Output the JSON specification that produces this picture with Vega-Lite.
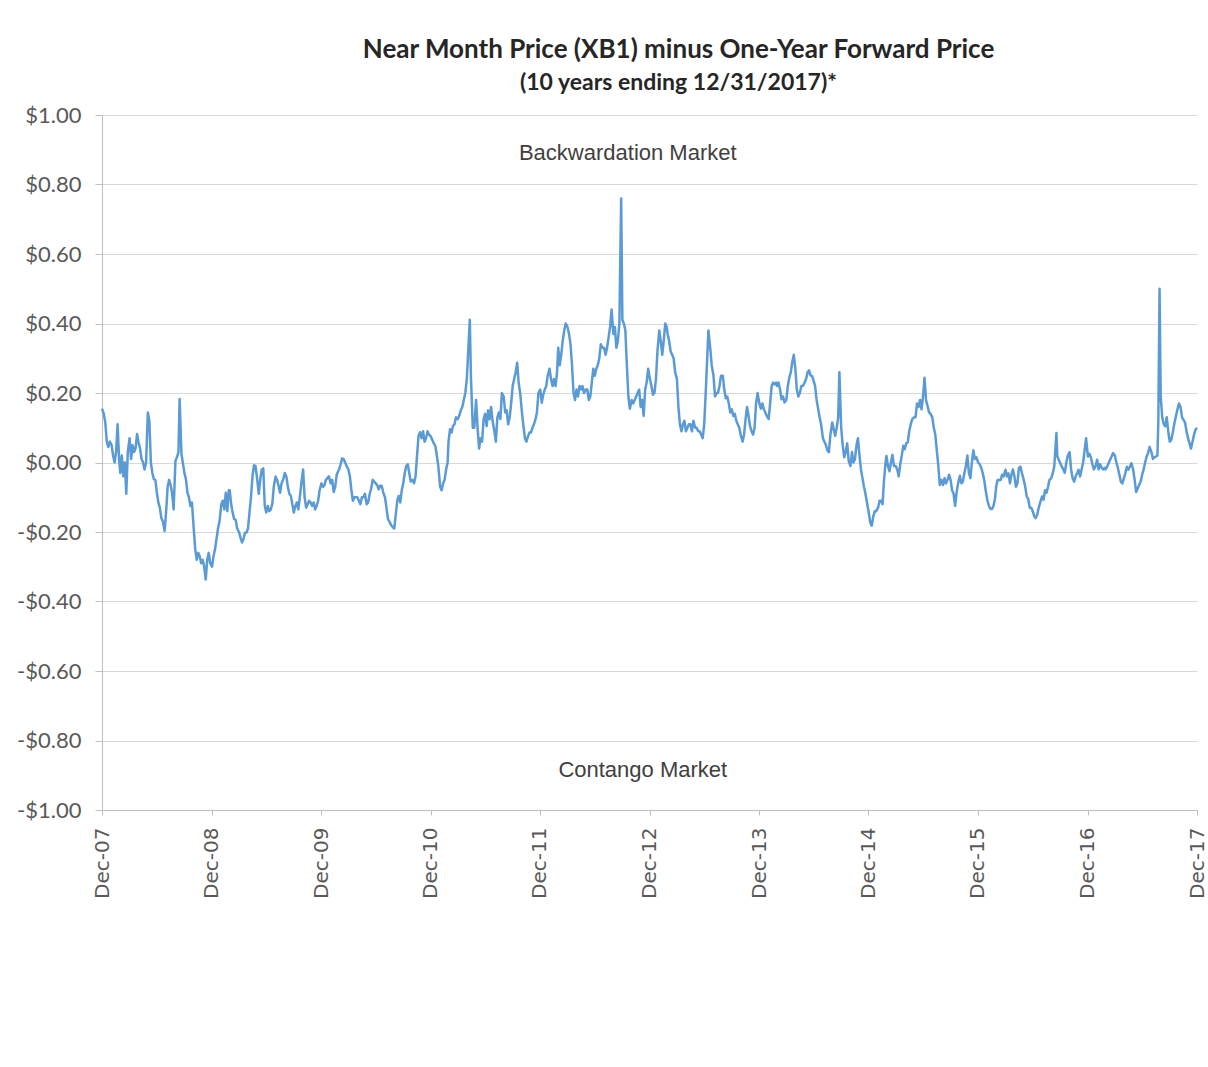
{
  "$schema": "https://vega.github.io/schema/vega-lite/v6.json",
  "width": 1095,
  "height": 695,
  "autosize": {"type": "none"},
  "padding": {"left": 102, "top": 115, "right": 11, "bottom": 257},
  "background": "white",
  "config": {"view": {"stroke": null}},
  "title": {
    "text": "Near Month Price (XB1) minus One-Year Forward Price",
    "subtitle": "(10 years ending 12/31/2017)*",
    "font": "Lato", "fontSize": 26, "fontWeight": "bold", "color": "#262626",
    "subtitleFont": "Lato", "subtitleFontSize": 23, "subtitleFontWeight": "bold", "subtitleColor": "#262626",
    "anchor": "middle", "dx": 29, "offset": 9, "subtitlePadding": 9
  },
  "encoding": {
    "x": {
      "field": "d", "type": "temporal",
      "scale": {"domain": [{"year": 2007, "month": 12, "date": 31}, {"year": 2017, "month": 12, "date": 31}]},
      "axis": {
        "title": null, "grid": false, "format": "%b-%y", "labelAngle": -90,
        "values": [
          {"year": 2007, "month": 12, "date": 31}, {"year": 2008, "month": 12, "date": 31},
          {"year": 2009, "month": 12, "date": 31}, {"year": 2010, "month": 12, "date": 31},
          {"year": 2011, "month": 12, "date": 31}, {"year": 2012, "month": 12, "date": 31},
          {"year": 2013, "month": 12, "date": 31}, {"year": 2014, "month": 12, "date": 31},
          {"year": 2015, "month": 12, "date": 31}, {"year": 2016, "month": 12, "date": 31},
          {"year": 2017, "month": 12, "date": 31}
        ],
        "labelFont": "DejaVu Sans", "labelFontSize": 20, "labelColor": "#595959",
        "domainColor": "#bfbfbf", "tickColor": "#bfbfbf", "tickSize": 5, "labelPadding": 12,
        "labelOverlap": false, "labelFlush": false
      }
    },
    "y": {
      "field": "v", "type": "quantitative",
      "scale": {"domain": [-1, 1], "nice": false, "zero": false},
      "axis": {
        "title": null,
        "values": [-1, -0.8, -0.6, -0.4, -0.2, 0, 0.2, 0.4, 0.6, 0.8, 1],
        "labelExpr": "datum.value < -0.0001 ? '-$' + format(-datum.value, '.2f') : '$' + format(abs(datum.value), '.2f')",
        "labelFont": "Lato", "labelFontSize": 22, "labelColor": "#595959",
        "domainColor": "#bfbfbf", "tickColor": "#bfbfbf", "tickSize": 7, "labelPadding": 14,
        "gridColor": "#d9d9d9", "gridWidth": 1, "labelOverlap": false
      }
    }
  },
  "layer": [
    {
      "data": {"values": [
        {"d": "2007-12-31"}, {"d": "2008-12-31"}, {"d": "2009-12-31"}, {"d": "2010-12-31"},
        {"d": "2011-12-31"}, {"d": "2012-12-31"}, {"d": "2013-12-31"}, {"d": "2014-12-31"},
        {"d": "2015-12-31"}, {"d": "2016-12-31"}, {"d": "2017-12-31"}
      ]},
      "mark": {"type": "tick", "orient": "vertical", "size": 8, "thickness": 1, "color": "#bfbfbf", "yOffset": 4},
      "encoding": {"y": {"datum": 0}}
    },
    {
      "data": {"values": [
        {"d": "2007-12-31", "v": 0.155}, {"d": "2008-01-11", "v": 0.115}, {"d": "2008-01-21", "v": 0.045},
        {"d": "2008-02-01", "v": 0.05}, {"d": "2008-02-11", "v": 0.0}, {"d": "2008-02-21", "v": 0.11},
        {"d": "2008-03-01", "v": -0.03}, {"d": "2008-03-11", "v": -0.04}, {"d": "2008-03-21", "v": -0.09},
        {"d": "2008-04-01", "v": 0.07}, {"d": "2008-04-11", "v": 0.05}, {"d": "2008-04-21", "v": 0.04},
        {"d": "2008-05-01", "v": 0.058}, {"d": "2008-05-11", "v": 0.01}, {"d": "2008-05-21", "v": -0.02},
        {"d": "2008-06-01", "v": 0.144}, {"d": "2008-06-11", "v": 0.0}, {"d": "2008-06-21", "v": -0.048},
        {"d": "2008-07-01", "v": -0.087}, {"d": "2008-07-11", "v": -0.13}, {"d": "2008-07-21", "v": -0.17},
        {"d": "2008-07-27", "v": -0.197}, {"d": "2008-08-01", "v": -0.14}, {"d": "2008-08-11", "v": -0.05},
        {"d": "2008-08-21", "v": -0.09}, {"d": "2008-09-01", "v": 0.005}, {"d": "2008-09-11", "v": 0.03},
        {"d": "2008-09-15", "v": 0.183}, {"d": "2008-09-21", "v": 0.025}, {"d": "2008-10-01", "v": -0.03},
        {"d": "2008-10-11", "v": -0.087}, {"d": "2008-10-21", "v": -0.125}, {"d": "2008-11-01", "v": -0.19},
        {"d": "2008-11-11", "v": -0.28}, {"d": "2008-11-21", "v": -0.27}, {"d": "2008-12-01", "v": -0.28},
        {"d": "2008-12-11", "v": -0.337}, {"d": "2008-12-21", "v": -0.26},
        {"d": "2009-01-01", "v": -0.30}, {"d": "2009-01-11", "v": -0.25}, {"d": "2009-01-21", "v": -0.19},
        {"d": "2009-02-01", "v": -0.12}, {"d": "2009-02-11", "v": -0.135}, {"d": "2009-02-21", "v": -0.14},
        {"d": "2009-03-01", "v": -0.08}, {"d": "2009-03-11", "v": -0.145}, {"d": "2009-03-21", "v": -0.165},
        {"d": "2009-04-01", "v": -0.20}, {"d": "2009-04-11", "v": -0.23}, {"d": "2009-04-21", "v": -0.202},
        {"d": "2009-05-01", "v": -0.19}, {"d": "2009-05-11", "v": -0.10}, {"d": "2009-05-21", "v": -0.008},
        {"d": "2009-06-01", "v": -0.05}, {"d": "2009-06-11", "v": -0.048}, {"d": "2009-06-21", "v": -0.017},
        {"d": "2009-07-01", "v": -0.144}, {"d": "2009-07-11", "v": -0.14}, {"d": "2009-07-21", "v": -0.12},
        {"d": "2009-08-01", "v": -0.04}, {"d": "2009-08-11", "v": -0.067}, {"d": "2009-08-21", "v": -0.06},
        {"d": "2009-09-01", "v": -0.03}, {"d": "2009-09-11", "v": -0.07}, {"d": "2009-09-21", "v": -0.096},
        {"d": "2009-10-01", "v": -0.144}, {"d": "2009-10-11", "v": -0.115}, {"d": "2009-10-21", "v": -0.10},
        {"d": "2009-11-01", "v": -0.02}, {"d": "2009-11-11", "v": -0.13}, {"d": "2009-11-21", "v": -0.11},
        {"d": "2009-12-01", "v": -0.125}, {"d": "2009-12-11", "v": -0.135}, {"d": "2009-12-21", "v": -0.11},
        {"d": "2010-01-01", "v": -0.06}, {"d": "2010-01-11", "v": -0.065}, {"d": "2010-01-21", "v": -0.045},
        {"d": "2010-02-01", "v": -0.06}, {"d": "2010-02-11", "v": -0.085}, {"d": "2010-02-21", "v": -0.035},
        {"d": "2010-03-01", "v": -0.02}, {"d": "2010-03-11", "v": 0.012}, {"d": "2010-03-21", "v": 0.0},
        {"d": "2010-04-01", "v": -0.02}, {"d": "2010-04-11", "v": -0.08}, {"d": "2010-04-21", "v": -0.10},
        {"d": "2010-05-01", "v": -0.10}, {"d": "2010-05-11", "v": -0.12}, {"d": "2010-05-21", "v": -0.10},
        {"d": "2010-06-01", "v": -0.12}, {"d": "2010-06-11", "v": -0.09}, {"d": "2010-06-21", "v": -0.05},
        {"d": "2010-07-01", "v": -0.06}, {"d": "2010-07-11", "v": -0.077}, {"d": "2010-07-21", "v": -0.067},
        {"d": "2010-08-01", "v": -0.10}, {"d": "2010-08-11", "v": -0.163}, {"d": "2010-08-21", "v": -0.18},
        {"d": "2010-09-01", "v": -0.19}, {"d": "2010-09-11", "v": -0.11}, {"d": "2010-09-21", "v": -0.115},
        {"d": "2010-10-01", "v": -0.06}, {"d": "2010-10-11", "v": -0.01}, {"d": "2010-10-21", "v": -0.03},
        {"d": "2010-11-01", "v": -0.05}, {"d": "2010-11-11", "v": -0.04}, {"d": "2010-11-21", "v": 0.077},
        {"d": "2010-12-01", "v": 0.07}, {"d": "2010-12-11", "v": 0.06}, {"d": "2010-12-21", "v": 0.09},
        {"d": "2011-01-01", "v": 0.075}, {"d": "2011-01-11", "v": 0.055}, {"d": "2011-01-21", "v": 0.02},
        {"d": "2011-02-01", "v": -0.07}, {"d": "2011-02-11", "v": -0.06}, {"d": "2011-02-21", "v": -0.02},
        {"d": "2011-03-01", "v": 0.06}, {"d": "2011-03-11", "v": 0.086}, {"d": "2011-03-21", "v": 0.11},
        {"d": "2011-04-01", "v": 0.125}, {"d": "2011-04-11", "v": 0.15}, {"d": "2011-04-21", "v": 0.18},
        {"d": "2011-05-01", "v": 0.24}, {"d": "2011-05-04", "v": 0.29}, {"d": "2011-05-11", "v": 0.411},
        {"d": "2011-05-15", "v": 0.24}, {"d": "2011-05-21", "v": 0.10}, {"d": "2011-06-01", "v": 0.18},
        {"d": "2011-06-11", "v": 0.04}, {"d": "2011-06-21", "v": 0.06}, {"d": "2011-07-01", "v": 0.14},
        {"d": "2011-07-11", "v": 0.15}, {"d": "2011-07-21", "v": 0.16}, {"d": "2011-08-01", "v": 0.09},
        {"d": "2011-08-11", "v": 0.13}, {"d": "2011-08-21", "v": 0.125}, {"d": "2011-09-01", "v": 0.19},
        {"d": "2011-09-11", "v": 0.15}, {"d": "2011-09-21", "v": 0.13}, {"d": "2011-10-01", "v": 0.22},
        {"d": "2011-10-11", "v": 0.26}, {"d": "2011-10-21", "v": 0.23}, {"d": "2011-11-01", "v": 0.144},
        {"d": "2011-11-11", "v": 0.07}, {"d": "2011-11-21", "v": 0.075}, {"d": "2011-12-01", "v": 0.086},
        {"d": "2011-12-11", "v": 0.11}, {"d": "2011-12-21", "v": 0.144},
        {"d": "2012-01-01", "v": 0.21}, {"d": "2012-01-11", "v": 0.195}, {"d": "2012-01-21", "v": 0.22},
        {"d": "2012-02-01", "v": 0.27}, {"d": "2012-02-11", "v": 0.22}, {"d": "2012-02-21", "v": 0.22},
        {"d": "2012-03-01", "v": 0.33}, {"d": "2012-03-11", "v": 0.31}, {"d": "2012-03-21", "v": 0.38},
        {"d": "2012-04-01", "v": 0.39}, {"d": "2012-04-11", "v": 0.34}, {"d": "2012-04-21", "v": 0.2},
        {"d": "2012-05-01", "v": 0.21}, {"d": "2012-05-11", "v": 0.22}, {"d": "2012-05-21", "v": 0.22},
        {"d": "2012-06-01", "v": 0.21}, {"d": "2012-06-11", "v": 0.18}, {"d": "2012-06-21", "v": 0.23},
        {"d": "2012-07-01", "v": 0.25}, {"d": "2012-07-11", "v": 0.28}, {"d": "2012-07-21", "v": 0.34},
        {"d": "2012-08-01", "v": 0.33}, {"d": "2012-08-11", "v": 0.33}, {"d": "2012-08-21", "v": 0.39},
        {"d": "2012-09-01", "v": 0.37}, {"d": "2012-09-11", "v": 0.33}, {"d": "2012-09-21", "v": 0.40},
        {"d": "2012-09-27", "v": 0.76}, {"d": "2012-10-01", "v": 0.41}, {"d": "2012-10-11", "v": 0.38},
        {"d": "2012-10-21", "v": 0.19}, {"d": "2012-11-01", "v": 0.18}, {"d": "2012-11-11", "v": 0.18},
        {"d": "2012-11-21", "v": 0.2}, {"d": "2012-12-01", "v": 0.16}, {"d": "2012-12-11", "v": 0.134},
        {"d": "2012-12-21", "v": 0.23},
        {"d": "2013-01-01", "v": 0.24}, {"d": "2013-01-11", "v": 0.195}, {"d": "2013-01-21", "v": 0.24},
        {"d": "2013-02-01", "v": 0.38}, {"d": "2013-02-11", "v": 0.31}, {"d": "2013-02-21", "v": 0.40},
        {"d": "2013-03-01", "v": 0.37}, {"d": "2013-03-11", "v": 0.32}, {"d": "2013-03-21", "v": 0.30},
        {"d": "2013-04-01", "v": 0.24}, {"d": "2013-04-11", "v": 0.11}, {"d": "2013-04-21", "v": 0.11},
        {"d": "2013-05-01", "v": 0.09}, {"d": "2013-05-11", "v": 0.11}, {"d": "2013-05-21", "v": 0.09},
        {"d": "2013-06-01", "v": 0.10}, {"d": "2013-06-11", "v": 0.09}, {"d": "2013-06-21", "v": 0.08},
        {"d": "2013-07-01", "v": 0.11}, {"d": "2013-07-11", "v": 0.30}, {"d": "2013-07-15", "v": 0.38},
        {"d": "2013-07-21", "v": 0.33}, {"d": "2013-08-01", "v": 0.25}, {"d": "2013-08-11", "v": 0.20},
        {"d": "2013-08-21", "v": 0.22}, {"d": "2013-09-01", "v": 0.25}, {"d": "2013-09-11", "v": 0.185},
        {"d": "2013-09-21", "v": 0.17}, {"d": "2013-10-01", "v": 0.153}, {"d": "2013-10-11", "v": 0.14},
        {"d": "2013-10-21", "v": 0.11}, {"d": "2013-11-01", "v": 0.075}, {"d": "2013-11-11", "v": 0.08},
        {"d": "2013-11-21", "v": 0.16}, {"d": "2013-12-01", "v": 0.105}, {"d": "2013-12-11", "v": 0.08},
        {"d": "2013-12-21", "v": 0.17},
        {"d": "2014-01-01", "v": 0.17}, {"d": "2014-01-11", "v": 0.17}, {"d": "2014-01-21", "v": 0.144},
        {"d": "2014-02-01", "v": 0.125}, {"d": "2014-02-11", "v": 0.22}, {"d": "2014-02-21", "v": 0.225},
        {"d": "2014-03-01", "v": 0.22}, {"d": "2014-03-11", "v": 0.21}, {"d": "2014-03-21", "v": 0.19},
        {"d": "2014-04-01", "v": 0.18}, {"d": "2014-04-11", "v": 0.245}, {"d": "2014-04-21", "v": 0.29},
        {"d": "2014-05-01", "v": 0.27}, {"d": "2014-05-11", "v": 0.19}, {"d": "2014-05-21", "v": 0.22},
        {"d": "2014-06-01", "v": 0.23}, {"d": "2014-06-11", "v": 0.26}, {"d": "2014-06-21", "v": 0.25},
        {"d": "2014-07-01", "v": 0.235}, {"d": "2014-07-11", "v": 0.18}, {"d": "2014-07-21", "v": 0.13},
        {"d": "2014-08-01", "v": 0.07}, {"d": "2014-08-11", "v": 0.05}, {"d": "2014-08-21", "v": 0.03},
        {"d": "2014-09-01", "v": 0.115}, {"d": "2014-09-11", "v": 0.077}, {"d": "2014-09-21", "v": 0.13},
        {"d": "2014-09-25", "v": 0.26}, {"d": "2014-10-01", "v": 0.10}, {"d": "2014-10-11", "v": 0.015},
        {"d": "2014-10-21", "v": 0.055}, {"d": "2014-11-01", "v": -0.01}, {"d": "2014-11-11", "v": 0.0},
        {"d": "2014-11-21", "v": 0.05}, {"d": "2014-12-01", "v": 0.02}, {"d": "2014-12-11", "v": -0.045},
        {"d": "2014-12-21", "v": -0.09},
        {"d": "2015-01-01", "v": -0.145}, {"d": "2015-01-11", "v": -0.182}, {"d": "2015-01-21", "v": -0.14},
        {"d": "2015-02-01", "v": -0.13}, {"d": "2015-02-11", "v": -0.11}, {"d": "2015-02-21", "v": -0.05},
        {"d": "2015-03-01", "v": 0.019}, {"d": "2015-03-11", "v": -0.025}, {"d": "2015-03-21", "v": 0.022},
        {"d": "2015-04-01", "v": -0.01}, {"d": "2015-04-11", "v": -0.04}, {"d": "2015-04-21", "v": 0.019},
        {"d": "2015-05-01", "v": 0.038}, {"d": "2015-05-11", "v": 0.058}, {"d": "2015-05-21", "v": 0.11},
        {"d": "2015-06-01", "v": 0.13}, {"d": "2015-06-11", "v": 0.17}, {"d": "2015-06-21", "v": 0.18},
        {"d": "2015-07-01", "v": 0.19}, {"d": "2015-07-06", "v": 0.244}, {"d": "2015-07-11", "v": 0.18},
        {"d": "2015-07-21", "v": 0.145}, {"d": "2015-08-01", "v": 0.13}, {"d": "2015-08-11", "v": 0.08},
        {"d": "2015-08-21", "v": -0.01}, {"d": "2015-09-01", "v": -0.05}, {"d": "2015-09-11", "v": -0.045},
        {"d": "2015-09-21", "v": -0.05}, {"d": "2015-10-01", "v": -0.05}, {"d": "2015-10-11", "v": -0.09},
        {"d": "2015-10-21", "v": -0.086}, {"d": "2015-11-01", "v": -0.038}, {"d": "2015-11-11", "v": -0.055},
        {"d": "2015-11-21", "v": -0.01}, {"d": "2015-12-01", "v": -0.03}, {"d": "2015-12-11", "v": 0.0},
        {"d": "2015-12-21", "v": 0.01},
        {"d": "2016-01-01", "v": 0.0}, {"d": "2016-01-11", "v": -0.015}, {"d": "2016-01-21", "v": -0.05},
        {"d": "2016-02-01", "v": -0.11}, {"d": "2016-02-11", "v": -0.134}, {"d": "2016-02-21", "v": -0.125},
        {"d": "2016-03-01", "v": -0.07}, {"d": "2016-03-11", "v": -0.05}, {"d": "2016-03-21", "v": -0.035},
        {"d": "2016-04-01", "v": -0.021}, {"d": "2016-04-11", "v": -0.031}, {"d": "2016-04-21", "v": -0.035},
        {"d": "2016-05-01", "v": -0.04}, {"d": "2016-05-11", "v": -0.06}, {"d": "2016-05-21", "v": -0.012},
        {"d": "2016-06-01", "v": -0.05}, {"d": "2016-06-11", "v": -0.098}, {"d": "2016-06-21", "v": -0.13},
        {"d": "2016-07-01", "v": -0.14}, {"d": "2016-07-11", "v": -0.16}, {"d": "2016-07-21", "v": -0.13},
        {"d": "2016-08-01", "v": -0.098}, {"d": "2016-08-11", "v": -0.08}, {"d": "2016-08-21", "v": -0.07},
        {"d": "2016-09-01", "v": -0.045}, {"d": "2016-09-11", "v": -0.01}, {"d": "2016-09-18", "v": 0.085},
        {"d": "2016-09-21", "v": 0.017}, {"d": "2016-10-01", "v": -0.002}, {"d": "2016-10-11", "v": -0.02},
        {"d": "2016-10-21", "v": 0.0}, {"d": "2016-11-01", "v": 0.03}, {"d": "2016-11-11", "v": -0.045},
        {"d": "2016-11-21", "v": -0.04}, {"d": "2016-12-01", "v": -0.021}, {"d": "2016-12-11", "v": -0.02},
        {"d": "2016-12-21", "v": 0.035}, {"d": "2016-12-26", "v": 0.07},
        {"d": "2017-01-01", "v": 0.017}, {"d": "2017-01-11", "v": 0.015}, {"d": "2017-01-21", "v": -0.02},
        {"d": "2017-02-01", "v": 0.008}, {"d": "2017-02-11", "v": -0.005}, {"d": "2017-02-21", "v": -0.02},
        {"d": "2017-03-01", "v": -0.02}, {"d": "2017-03-11", "v": -0.002}, {"d": "2017-03-21", "v": 0.017},
        {"d": "2017-04-01", "v": 0.02}, {"d": "2017-04-11", "v": -0.015}, {"d": "2017-04-21", "v": -0.055},
        {"d": "2017-05-01", "v": -0.045}, {"d": "2017-05-11", "v": -0.012}, {"d": "2017-05-21", "v": -0.012},
        {"d": "2017-06-01", "v": -0.02}, {"d": "2017-06-11", "v": -0.085}, {"d": "2017-06-21", "v": -0.065},
        {"d": "2017-07-01", "v": -0.035}, {"d": "2017-07-11", "v": 0.0}, {"d": "2017-07-21", "v": 0.027},
        {"d": "2017-08-01", "v": 0.03}, {"d": "2017-08-11", "v": 0.015}, {"d": "2017-08-21", "v": 0.02},
        {"d": "2017-08-24", "v": 0.12}, {"d": "2017-08-28", "v": 0.50}, {"d": "2017-09-01", "v": 0.19},
        {"d": "2017-09-06", "v": 0.13}, {"d": "2017-09-11", "v": 0.11}, {"d": "2017-09-21", "v": 0.13},
        {"d": "2017-10-01", "v": 0.06}, {"d": "2017-10-11", "v": 0.085}, {"d": "2017-10-21", "v": 0.13},
        {"d": "2017-11-01", "v": 0.17}, {"d": "2017-11-11", "v": 0.13}, {"d": "2017-11-21", "v": 0.115},
        {"d": "2017-12-01", "v": 0.07}, {"d": "2017-12-11", "v": 0.04}, {"d": "2017-12-21", "v": 0.08},
        {"d": "2017-12-31", "v": 0.10},

        {"d": "2008-01-06", "v": 0.14}, {"d": "2008-01-16", "v": 0.06}, {"d": "2008-01-26", "v": 0.06},
        {"d": "2008-02-06", "v": 0.02}, {"d": "2008-02-16", "v": 0.03}, {"d": "2008-02-26", "v": 0.01},
        {"d": "2008-03-06", "v": 0.02}, {"d": "2008-03-16", "v": 0.0}, {"d": "2008-03-26", "v": 0.03},
        {"d": "2008-04-06", "v": 0.01}, {"d": "2008-04-16", "v": 0.03}, {"d": "2008-04-26", "v": 0.082},
        {"d": "2008-05-06", "v": 0.04}, {"d": "2008-05-16", "v": 0.0}, {"d": "2008-05-26", "v": 0.0},
        {"d": "2008-06-06", "v": 0.12}, {"d": "2008-06-16", "v": -0.03}, {"d": "2008-06-26", "v": -0.05},
        {"d": "2008-07-06", "v": -0.115}, {"d": "2008-07-16", "v": -0.16},
        {"d": "2008-08-06", "v": -0.07}, {"d": "2008-08-16", "v": -0.065}, {"d": "2008-08-26", "v": -0.135},
        {"d": "2008-09-06", "v": 0.015},
        {"d": "2008-10-06", "v": -0.048}, {"d": "2008-10-16", "v": -0.1}, {"d": "2008-10-26", "v": -0.115},
        {"d": "2008-11-06", "v": -0.25}, {"d": "2008-11-16", "v": -0.26}, {"d": "2008-11-26", "v": -0.29},
        {"d": "2008-12-06", "v": -0.30}, {"d": "2008-12-16", "v": -0.28}, {"d": "2008-12-26", "v": -0.29},
        {"d": "2009-01-06", "v": -0.27}, {"d": "2009-01-16", "v": -0.22}, {"d": "2009-01-26", "v": -0.17},
        {"d": "2009-02-06", "v": -0.11}, {"d": "2009-02-16", "v": -0.087}, {"d": "2009-02-26", "v": -0.08},
        {"d": "2009-03-06", "v": -0.12}, {"d": "2009-03-16", "v": -0.163}, {"d": "2009-03-26", "v": -0.19},
        {"d": "2009-04-06", "v": -0.216}, {"d": "2009-04-16", "v": -0.22}, {"d": "2009-04-26", "v": -0.202},
        {"d": "2009-05-06", "v": -0.144}, {"d": "2009-05-16", "v": -0.04}, {"d": "2009-05-26", "v": -0.01},
        {"d": "2009-06-06", "v": -0.09}, {"d": "2009-06-16", "v": -0.02}, {"d": "2009-06-26", "v": -0.125},
        {"d": "2009-07-06", "v": -0.125}, {"d": "2009-07-16", "v": -0.135}, {"d": "2009-07-26", "v": -0.07},
        {"d": "2009-08-06", "v": -0.05}, {"d": "2009-08-16", "v": -0.087}, {"d": "2009-08-26", "v": -0.05},
        {"d": "2009-09-06", "v": -0.04}, {"d": "2009-09-16", "v": -0.09}, {"d": "2009-09-26", "v": -0.12},
        {"d": "2009-10-06", "v": -0.125}, {"d": "2009-10-16", "v": -0.135}, {"d": "2009-10-26", "v": -0.06},
        {"d": "2009-11-06", "v": -0.1}, {"d": "2009-11-16", "v": -0.12}, {"d": "2009-11-26", "v": -0.115},
        {"d": "2009-12-06", "v": -0.115}, {"d": "2009-12-16", "v": -0.125}, {"d": "2009-12-26", "v": -0.08},
        {"d": "2010-01-06", "v": -0.07}, {"d": "2010-01-16", "v": -0.05}, {"d": "2010-01-26", "v": -0.04},
        {"d": "2010-02-06", "v": -0.05}, {"d": "2010-02-16", "v": -0.07}, {"d": "2010-02-26", "v": -0.025},
        {"d": "2010-03-06", "v": -0.005}, {"d": "2010-03-16", "v": 0.01}, {"d": "2010-03-26", "v": -0.01},
        {"d": "2010-04-06", "v": -0.04}, {"d": "2010-04-16", "v": -0.11}, {"d": "2010-04-26", "v": -0.1},
        {"d": "2010-05-06", "v": -0.11}, {"d": "2010-05-16", "v": -0.1}, {"d": "2010-05-26", "v": -0.09},
        {"d": "2010-06-06", "v": -0.115}, {"d": "2010-06-16", "v": -0.075}, {"d": "2010-06-26", "v": -0.055},
        {"d": "2010-07-06", "v": -0.065}, {"d": "2010-07-16", "v": -0.067}, {"d": "2010-07-26", "v": -0.085},
        {"d": "2010-08-06", "v": -0.13}, {"d": "2010-08-16", "v": -0.17}, {"d": "2010-08-26", "v": -0.185},
        {"d": "2010-09-06", "v": -0.15}, {"d": "2010-09-16", "v": -0.096}, {"d": "2010-09-26", "v": -0.08},
        {"d": "2010-10-06", "v": -0.03}, {"d": "2010-10-16", "v": -0.005}, {"d": "2010-10-26", "v": -0.055},
        {"d": "2010-11-06", "v": -0.06}, {"d": "2010-11-16", "v": 0.02}, {"d": "2010-11-26", "v": 0.087},
        {"d": "2010-12-06", "v": 0.09}, {"d": "2010-12-16", "v": 0.07}, {"d": "2010-12-26", "v": 0.08},
        {"d": "2011-01-06", "v": 0.065}, {"d": "2011-01-16", "v": 0.048}, {"d": "2011-01-26", "v": -0.01},
        {"d": "2011-02-06", "v": -0.08}, {"d": "2011-02-16", "v": -0.05}, {"d": "2011-02-26", "v": 0.0},
        {"d": "2011-03-06", "v": 0.096}, {"d": "2011-03-16", "v": 0.105}, {"d": "2011-03-26", "v": 0.13},
        {"d": "2011-04-06", "v": 0.135}, {"d": "2011-04-16", "v": 0.16}, {"d": "2011-04-26", "v": 0.2},
        {"d": "2011-05-26", "v": 0.1},
        {"d": "2011-06-06", "v": 0.1}, {"d": "2011-06-16", "v": 0.07}, {"d": "2011-06-26", "v": 0.124},
        {"d": "2011-07-06", "v": 0.105}, {"d": "2011-07-16", "v": 0.124}, {"d": "2011-07-26", "v": 0.12},
        {"d": "2011-08-06", "v": 0.06}, {"d": "2011-08-16", "v": 0.144}, {"d": "2011-08-26", "v": 0.2},
        {"d": "2011-09-06", "v": 0.144}, {"d": "2011-09-16", "v": 0.11}, {"d": "2011-09-26", "v": 0.17},
        {"d": "2011-10-06", "v": 0.24}, {"d": "2011-10-16", "v": 0.287}, {"d": "2011-10-26", "v": 0.2},
        {"d": "2011-11-06", "v": 0.105}, {"d": "2011-11-16", "v": 0.06}, {"d": "2011-11-26", "v": 0.086},
        {"d": "2011-12-06", "v": 0.1}, {"d": "2011-12-16", "v": 0.124}, {"d": "2011-12-26", "v": 0.2},
        {"d": "2012-01-06", "v": 0.172}, {"d": "2012-01-16", "v": 0.21}, {"d": "2012-01-26", "v": 0.25},
        {"d": "2012-02-06", "v": 0.24}, {"d": "2012-02-16", "v": 0.24}, {"d": "2012-02-26", "v": 0.258},
        {"d": "2012-03-06", "v": 0.28}, {"d": "2012-03-16", "v": 0.35}, {"d": "2012-03-26", "v": 0.40},
        {"d": "2012-04-06", "v": 0.37}, {"d": "2012-04-16", "v": 0.28}, {"d": "2012-04-26", "v": 0.18},
        {"d": "2012-05-06", "v": 0.19}, {"d": "2012-05-16", "v": 0.21}, {"d": "2012-05-26", "v": 0.2},
        {"d": "2012-06-06", "v": 0.21}, {"d": "2012-06-16", "v": 0.19}, {"d": "2012-06-26", "v": 0.27},
        {"d": "2012-07-06", "v": 0.27}, {"d": "2012-07-16", "v": 0.3}, {"d": "2012-07-26", "v": 0.33},
        {"d": "2012-08-06", "v": 0.31}, {"d": "2012-08-16", "v": 0.36}, {"d": "2012-08-26", "v": 0.44},
        {"d": "2012-09-06", "v": 0.39}, {"d": "2012-09-16", "v": 0.35},
        {"d": "2012-10-06", "v": 0.40}, {"d": "2012-10-16", "v": 0.28}, {"d": "2012-10-26", "v": 0.155},
        {"d": "2012-11-06", "v": 0.17}, {"d": "2012-11-16", "v": 0.19}, {"d": "2012-11-26", "v": 0.21},
        {"d": "2012-12-06", "v": 0.18}, {"d": "2012-12-16", "v": 0.21}, {"d": "2012-12-26", "v": 0.27},
        {"d": "2013-01-06", "v": 0.22}, {"d": "2013-01-16", "v": 0.2}, {"d": "2013-01-26", "v": 0.32},
        {"d": "2013-02-06", "v": 0.35}, {"d": "2013-02-16", "v": 0.35}, {"d": "2013-02-26", "v": 0.39},
        {"d": "2013-03-06", "v": 0.35}, {"d": "2013-03-16", "v": 0.31}, {"d": "2013-03-26", "v": 0.26},
        {"d": "2013-04-06", "v": 0.16}, {"d": "2013-04-16", "v": 0.09}, {"d": "2013-04-26", "v": 0.12},
        {"d": "2013-05-06", "v": 0.1}, {"d": "2013-05-16", "v": 0.11}, {"d": "2013-05-26", "v": 0.12},
        {"d": "2013-06-06", "v": 0.1}, {"d": "2013-06-16", "v": 0.09}, {"d": "2013-06-26", "v": 0.07},
        {"d": "2013-07-06", "v": 0.2}, {"d": "2013-07-26", "v": 0.28},
        {"d": "2013-08-06", "v": 0.19}, {"d": "2013-08-16", "v": 0.2}, {"d": "2013-08-26", "v": 0.25},
        {"d": "2013-09-06", "v": 0.21}, {"d": "2013-09-16", "v": 0.19}, {"d": "2013-09-26", "v": 0.144},
        {"d": "2013-10-06", "v": 0.134}, {"d": "2013-10-16", "v": 0.12}, {"d": "2013-10-26", "v": 0.1},
        {"d": "2013-11-06", "v": 0.06}, {"d": "2013-11-16", "v": 0.125}, {"d": "2013-11-26", "v": 0.134},
        {"d": "2013-12-06", "v": 0.09}, {"d": "2013-12-16", "v": 0.1}, {"d": "2013-12-26", "v": 0.2},
        {"d": "2014-01-06", "v": 0.155}, {"d": "2014-01-16", "v": 0.153}, {"d": "2014-01-26", "v": 0.134},
        {"d": "2014-02-06", "v": 0.17}, {"d": "2014-02-16", "v": 0.23}, {"d": "2014-02-26", "v": 0.23},
        {"d": "2014-03-06", "v": 0.23}, {"d": "2014-03-16", "v": 0.182}, {"d": "2014-03-26", "v": 0.173},
        {"d": "2014-04-06", "v": 0.22}, {"d": "2014-04-16", "v": 0.26}, {"d": "2014-04-26", "v": 0.31},
        {"d": "2014-05-06", "v": 0.21}, {"d": "2014-05-16", "v": 0.2}, {"d": "2014-05-26", "v": 0.22},
        {"d": "2014-06-06", "v": 0.24}, {"d": "2014-06-16", "v": 0.265}, {"d": "2014-06-26", "v": 0.249},
        {"d": "2014-07-06", "v": 0.22}, {"d": "2014-07-16", "v": 0.155}, {"d": "2014-07-26", "v": 0.11},
        {"d": "2014-08-06", "v": 0.06}, {"d": "2014-08-16", "v": 0.035}, {"d": "2014-08-26", "v": 0.08},
        {"d": "2014-09-06", "v": 0.096}, {"d": "2014-09-16", "v": 0.1},
        {"d": "2014-10-06", "v": 0.05}, {"d": "2014-10-16", "v": 0.03}, {"d": "2014-10-26", "v": 0.005},
        {"d": "2014-11-06", "v": 0.03}, {"d": "2014-11-16", "v": 0.01}, {"d": "2014-11-26", "v": 0.07},
        {"d": "2014-12-06", "v": -0.02}, {"d": "2014-12-16", "v": -0.07}, {"d": "2014-12-26", "v": -0.115},
        {"d": "2015-01-06", "v": -0.173}, {"d": "2015-01-16", "v": -0.155}, {"d": "2015-01-26", "v": -0.14},
        {"d": "2015-02-06", "v": -0.11}, {"d": "2015-02-16", "v": -0.12}, {"d": "2015-02-26", "v": 0.0},
        {"d": "2015-03-06", "v": -0.01}, {"d": "2015-03-16", "v": 0.0}, {"d": "2015-03-26", "v": -0.01},
        {"d": "2015-04-06", "v": -0.02}, {"d": "2015-04-16", "v": -0.005}, {"d": "2015-04-26", "v": 0.048},
        {"d": "2015-05-06", "v": 0.055}, {"d": "2015-05-16", "v": 0.09}, {"d": "2015-05-26", "v": 0.125},
        {"d": "2015-06-06", "v": 0.13}, {"d": "2015-06-16", "v": 0.16}, {"d": "2015-06-26", "v": 0.153},
        {"d": "2015-07-16", "v": 0.163}, {"d": "2015-07-26", "v": 0.14},
        {"d": "2015-08-06", "v": 0.1}, {"d": "2015-08-16", "v": 0.035}, {"d": "2015-08-26", "v": -0.065},
        {"d": "2015-09-06", "v": -0.065}, {"d": "2015-09-16", "v": -0.06}, {"d": "2015-09-26", "v": -0.035},
        {"d": "2015-10-06", "v": -0.08}, {"d": "2015-10-16", "v": -0.125}, {"d": "2015-10-26", "v": -0.06},
        {"d": "2015-11-06", "v": -0.06}, {"d": "2015-11-16", "v": -0.03}, {"d": "2015-11-26", "v": 0.02},
        {"d": "2015-12-06", "v": -0.045}, {"d": "2015-12-16", "v": 0.035}, {"d": "2015-12-26", "v": 0.015},
        {"d": "2016-01-06", "v": -0.005}, {"d": "2016-01-16", "v": -0.03}, {"d": "2016-01-26", "v": -0.08},
        {"d": "2016-02-06", "v": -0.125}, {"d": "2016-02-16", "v": -0.134}, {"d": "2016-02-26", "v": -0.105},
        {"d": "2016-03-06", "v": -0.05}, {"d": "2016-03-16", "v": -0.05}, {"d": "2016-03-26", "v": -0.04},
        {"d": "2016-04-06", "v": -0.04}, {"d": "2016-04-16", "v": -0.06}, {"d": "2016-04-26", "v": -0.02},
        {"d": "2016-05-06", "v": -0.07}, {"d": "2016-05-16", "v": -0.015}, {"d": "2016-05-26", "v": -0.03},
        {"d": "2016-06-06", "v": -0.07}, {"d": "2016-06-16", "v": -0.105}, {"d": "2016-06-26", "v": -0.13},
        {"d": "2016-07-06", "v": -0.155}, {"d": "2016-07-16", "v": -0.15}, {"d": "2016-07-26", "v": -0.115},
        {"d": "2016-08-06", "v": -0.107}, {"d": "2016-08-16", "v": -0.087}, {"d": "2016-08-26", "v": -0.05},
        {"d": "2016-09-06", "v": -0.03},
        {"d": "2016-10-06", "v": -0.012}, {"d": "2016-10-16", "v": -0.03}, {"d": "2016-10-26", "v": 0.02},
        {"d": "2016-11-06", "v": -0.02}, {"d": "2016-11-16", "v": -0.055}, {"d": "2016-11-26", "v": -0.031},
        {"d": "2016-12-06", "v": -0.04}, {"d": "2016-12-16", "v": 0.0},
        {"d": "2017-01-06", "v": 0.025}, {"d": "2017-01-16", "v": -0.005}, {"d": "2017-01-26", "v": -0.012},
        {"d": "2017-02-06", "v": -0.02}, {"d": "2017-02-16", "v": -0.015}, {"d": "2017-02-26", "v": -0.015},
        {"d": "2017-03-06", "v": -0.012}, {"d": "2017-03-16", "v": 0.008}, {"d": "2017-03-26", "v": 0.027},
        {"d": "2017-04-06", "v": 0.0}, {"d": "2017-04-16", "v": -0.035}, {"d": "2017-04-26", "v": -0.06},
        {"d": "2017-05-06", "v": -0.031}, {"d": "2017-05-16", "v": -0.021}, {"d": "2017-05-26", "v": -0.002},
        {"d": "2017-06-06", "v": -0.05}, {"d": "2017-06-16", "v": -0.075}, {"d": "2017-06-26", "v": -0.055},
        {"d": "2017-07-06", "v": -0.02}, {"d": "2017-07-16", "v": 0.017}, {"d": "2017-07-26", "v": 0.045},
        {"d": "2017-08-06", "v": 0.01}, {"d": "2017-08-16", "v": 0.017},
        {"d": "2017-09-16", "v": 0.104}, {"d": "2017-09-26", "v": 0.09},
        {"d": "2017-10-06", "v": 0.065}, {"d": "2017-10-16", "v": 0.11}, {"d": "2017-10-26", "v": 0.15},
        {"d": "2017-11-06", "v": 0.16}, {"d": "2017-11-16", "v": 0.123}, {"d": "2017-11-26", "v": 0.09},
        {"d": "2017-12-06", "v": 0.055}, {"d": "2017-12-16", "v": 0.06}, {"d": "2017-12-26", "v": 0.094}
      ]},
      "mark": {"type": "line", "color": "#5b9bd5", "strokeWidth": 2.5, "strokeJoin": "round"}
    },
    {
      "data": {"values": [
        {"label": "Backwardation Market", "d": "2012-10-19", "v": 0.89},
        {"label": "Contango Market", "d": "2012-12-08", "v": -0.885}
      ]},
      "mark": {"type": "text", "font": "Liberation Sans", "fontSize": 22, "color": "#404040"},
      "encoding": {"text": {"field": "label"}}
    }
  ]
}
